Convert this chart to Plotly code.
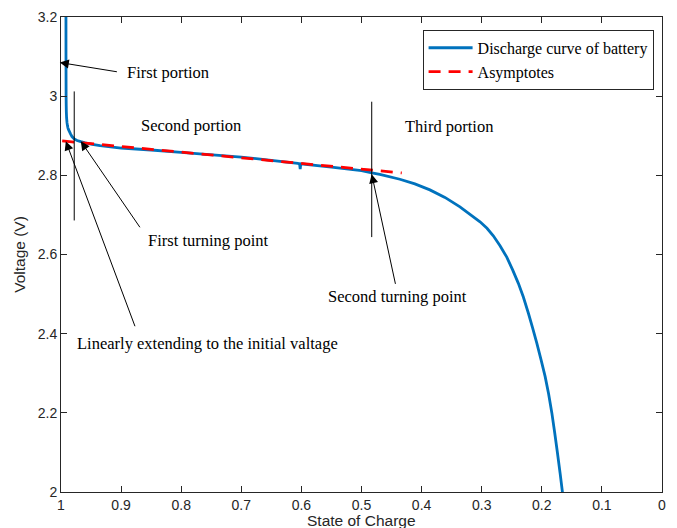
import plotly.graph_objects as go

# Discharge curve (State of Charge vs Voltage)
soc = [0.9918, 0.9917, 0.9915, 0.9913, 0.9911, 0.9907, 0.990, 0.9892, 0.9885, 0.9876, 0.9867,
       0.9855, 0.984, 0.9817, 0.978, 0.9733, 0.967, 0.96, 0.948, 0.935, 0.9, 0.85, 0.8, 0.769,
       0.7, 0.65, 0.606, 0.603, 0.602, 0.601, 0.55, 0.5, 0.4828, 0.4695, 0.4362, 0.4112,
       0.3862, 0.3612, 0.3362, 0.3195, 0.3028, 0.2912, 0.2807, 0.2695, 0.2583, 0.2487,
       0.2390, 0.2307, 0.2223, 0.2153, 0.2083, 0.2012, 0.1945, 0.1887, 0.1833, 0.1787,
       0.1740, 0.1695, 0.1657, 0.1645]
voltage = [3.30, 3.10, 3.00, 2.975, 2.960, 2.945, 2.933, 2.925, 2.920, 2.916, 2.913,
           2.909, 2.904, 2.898, 2.892, 2.888, 2.885, 2.882, 2.878, 2.875, 2.869, 2.864, 2.858, 2.854,
           2.846, 2.838, 2.830, 2.829, 2.816, 2.829, 2.821, 2.812, 2.8065, 2.8022, 2.7901, 2.7783,
           2.7632, 2.7443, 2.7204, 2.7015, 2.6826, 2.6662, 2.6474, 2.6222, 2.5933, 2.5618,
           2.5271, 2.4926, 2.4515, 2.4145, 2.3760, 2.3340, 2.2920, 2.2484, 2.1998, 2.1515,
           2.0992, 2.0471, 2.0, 1.984]

# Asymptote (linear extension)
asym_soc = [0.998, 0.433]
asym_v = [2.887, 2.806]

x_ticks = [1, 0.9, 0.8, 0.7, 0.6, 0.5, 0.4, 0.3, 0.2, 0.1, 0]
x_ticklabels = ["1", "0.9", "0.8", "0.7", "0.6", "0.5", "0.4", "0.3", "0.2", "0.1", "0"]
y_ticks = [2, 2.2, 2.4, 2.6, 2.8, 3, 3.2]
y_ticklabels = ["2", "2.2", "2.4", "2.6", "2.8", "3", "3.2"]

# Text labels: (text, x, y, xanchor)
labels = [
    ("First portion", 0.893, 3.06, "left"),
    ("Second portion", 0.783, 2.925, "center"),
    ("Third portion", 0.354, 2.923, "center"),
    ("First turning point", 0.858, 2.635, "left"),
    ("Second turning point", 0.4395, 2.494, "center"),
    ("Linearly extending to the initial valtage", 0.976, 2.376, "left"),
]
# Arrows: (tip_x, tip_y, tail_x, tail_y)
arrows = [
    (1.002, 3.085, 0.9045, 3.061),
    (0.967, 2.886, 0.867, 2.665),
    (0.992, 2.886, 0.876, 2.415),
    (0.483, 2.803, 0.443, 2.522),
]
# Vertical marker lines: (x, y0, y1)
vlines = [
    (0.978, 2.686, 3.012),
    (0.483, 2.644, 2.986),
]

serif = "Liberation Serif, Times New Roman, serif"
sans = "Liberation Sans, Arial, sans-serif"

fig = go.Figure()
fig.add_trace(go.Scatter(x=soc, y=voltage, mode="lines",
                         line=dict(color="#0072BD", width=2.8, shape="linear", simplify=False),
                         name="Discharge curve of battery"))
fig.add_trace(go.Scatter(x=asym_soc, y=asym_v, mode="lines",
                         line=dict(color="#FF0000", width=2.8, dash="12px,8px"),
                         name="Asymptotes"))

for t, x, y, xa in labels:
    fig.add_annotation(x=x, y=y, text=t, showarrow=False, xanchor=xa, yanchor="middle",
                       font=dict(family=serif, size=16.5, color="black"))
for tx, ty, sx, sy in arrows:
    fig.add_annotation(x=tx, y=ty, ax=sx, ay=sy, axref="x", ayref="y", text="",
                       showarrow=True, arrowhead=2, arrowsize=1.8, arrowwidth=1,
                       arrowcolor="black", standoff=0)
for x, y0, y1 in vlines:
    fig.add_shape(type="line", x0=x, x1=x, y0=y0, y1=y1, xref="x", yref="y",
                  line=dict(color="black", width=1))

# x-axis title placed just below the tick labels
fig.add_annotation(x=0.5, y=0, xref="paper", yref="paper", text="State of Charge",
                   showarrow=False, xanchor="center", yanchor="top", yshift=-18,
                   font=dict(family=sans, size=15.5, color="#262626"))

fig.update_layout(
    width=669, height=520,
    margin=dict(l=53, r=15, t=9, b=36),
    paper_bgcolor="white", plot_bgcolor="white",
    font=dict(family=sans, size=14, color="#262626"),
    legend=dict(x=0.986, y=0.973, xanchor="right", yanchor="top",
                bgcolor="white", bordercolor="#262626", borderwidth=1,
                font=dict(family=serif, size=16, color="black"),
                tracegroupgap=0, itemwidth=44),
    showlegend=True,
)
fig.update_xaxes(range=[1, 0], tickvals=x_ticks, ticktext=x_ticklabels,
                 ticks="inside", ticklen=6, tickcolor="#262626",
                 showline=True, linecolor="#262626", linewidth=1, mirror="allticks",
                 showgrid=False, zeroline=False, automargin=False)
fig.update_yaxes(range=[2, 3.2], tickvals=y_ticks, ticktext=y_ticklabels,
                 ticks="inside", ticklen=6, tickcolor="#262626",
                 showline=True, linecolor="#262626", linewidth=1, mirror="allticks",
                 showgrid=False, zeroline=False, automargin=False,
                 title=dict(text="Voltage (V)", font=dict(family=sans, size=15.5, color="#262626"), standoff=8))

fig.write_html("out.html")
